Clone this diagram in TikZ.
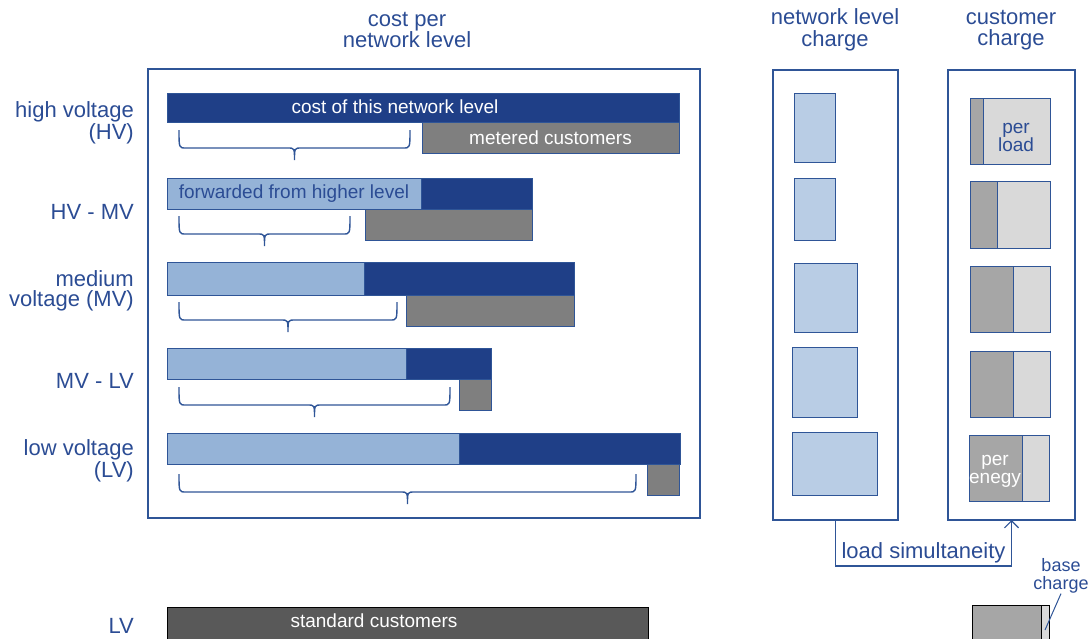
\documentclass[tikz,border=0pt]{standalone}
\usepackage{fontspec}
\setmainfont{Liberation Sans}
\usetikzlibrary{arrows.meta}
\definecolor{nblue}{HTML}{1F3F87}
\definecolor{lblue}{HTML}{95B3D7}
\definecolor{pblue}{HTML}{B9CDE5}
\definecolor{tblue}{HTML}{2B4C94}
\definecolor{lineblue}{HTML}{2F5597}
\definecolor{mgray}{HTML}{7F7F7F}
\definecolor{dgray}{HTML}{A6A6A6}
\definecolor{lgray}{HTML}{D9D9D9}
\definecolor{sgray}{HTML}{595959}
\tikzset{
    bar/.style={draw=lineblue,line width=1pt,anchor=north west,inner sep=0pt,outer sep=0pt},
    own/.style={bar,fill=nblue},
    fwd/.style={bar,fill=lblue,text=tblue,font=\fontsize{19}{19}\selectfont},
    met/.style={bar,fill=mgray,text=white,font=\fontsize{19}{19}\selectfont},
    chg/.style={bar,fill=pblue},
    pload/.style={bar,fill=lgray},
    penergy/.style={bar,fill=dgray},
    frame/.style={draw=lineblue,line width=1.2pt,anchor=north west,inner sep=0pt,outer sep=0pt},
    lbl/.style={text=tblue,align=right,anchor=east,inner sep=0pt,font=\fontsize{22}{20.5}\selectfont},
    ttl/.style={text=tblue,align=center,inner sep=0pt,font=\fontsize{22}{21.5}\selectfont},
    bartext/.style={text=white,inner sep=0pt,font=\fontsize{19}{19}\selectfont},
    boxtext/.style={align=center,inner sep=0pt,font=\fontsize{19}{18}\selectfont},
    brk/.style={draw=lineblue,line width=1.4pt},
    conn/.style={draw=lineblue,line width=1.2pt,-{Straight Barb[length=7pt,width=14pt]}},
}
\begin{document}
\begin{tikzpicture}[x=1pt,y=-1pt]
\useasboundingbox (0,0) rectangle (1088,638);
\node[ttl] (costttl) at (407,30) {cost per\\network level};
\node[ttl] (ncttl)   at (835,30) {network level\\charge};
\node[ttl] (ccttl)   at (1011,30) {customer\\charge};

\node[frame,minimum width=552,minimum height=449] (costbox) at (148,69) {};
\node[frame,minimum width=125,minimum height=450] (ncbox) at (773,70) {};
\node[frame,minimum width=127,minimum height=450] (ccbox) at (948,70) {};

\node[lbl] (hvlbl)   at (134,123) {high voltage\\(HV)};
\node[lbl] (hvmvlbl) at (134,212) {HV - MV};
\node[lbl] (mvlbl)   at (134,291) {medium\\voltage (MV)};
\node[lbl] (mvlvlbl) at (134,381) {MV - LV};
\node[lbl] (lvlbl)   at (134,461) {low voltage\\(LV)};
\node[lbl] (stdlbl)  at (134,626) {LV};

\node[own,minimum width=512,minimum height=29] (hvown) at (167,93) {};
\node[bartext] (hvowntext) at (395,107) {cost of this network level};
\node[met,minimum width=257,minimum height=31] (hvmet) at (422,122) {metered customers};

\node[own,minimum width=365,minimum height=31] (hvmvown) at (167,178) {};
\node[fwd,minimum width=254,minimum height=31] (hvmvfwd) at (167,178) {forwarded from higher level};
\node[met,minimum width=167,minimum height=31] (hvmvmet) at (365,209) {};

\node[own,minimum width=407,minimum height=33] (mvown) at (167,262) {};
\node[fwd,minimum width=197,minimum height=33] (mvfwd) at (167,262) {};
\node[met,minimum width=168,minimum height=31] (mvmet) at (406,295) {};

\node[own,minimum width=324,minimum height=31] (mvlvown) at (167,348) {};
\node[fwd,minimum width=239,minimum height=31] (mvlvfwd) at (167,348) {};
\node[met,minimum width=32,minimum height=31] (mvlvmet) at (459,379) {};

\node[own,minimum width=513,minimum height=31] (lvown) at (167,433) {};
\node[fwd,minimum width=292,minimum height=31] (lvfwd) at (167,433) {};
\node[met,minimum width=32,minimum height=31] (lvmet) at (647,464) {};

\foreach \xa/\xb/\yy in {179/410/130, 179/350/216, 179/397/302, 179/450/387, 179/636/474}
    \draw[brk] (\xa,\yy) .. controls (\xa,\yy+18) .. (\xa+7,\yy+18)
        -- ({(\xa+\xb)/2-7},\yy+18) .. controls ({(\xa+\xb)/2},\yy+18) .. ({(\xa+\xb)/2},\yy+30)
        .. controls ({(\xa+\xb)/2},\yy+18) .. ({(\xa+\xb)/2+7},\yy+18)
        -- (\xb-7,\yy+18) .. controls (\xb,\yy+18) .. (\xb,\yy);

\node[chg,minimum width=41,minimum height=69] (nc1) at (794,93) {};
\node[chg,minimum width=41,minimum height=62] (nc2) at (794,178) {};
\node[chg,minimum width=63,minimum height=69] (nc3) at (794,263) {};
\node[chg,minimum width=65,minimum height=70] (nc4) at (792,347) {};
\node[chg,minimum width=85,minimum height=63] (nc5) at (792,432) {};

\node[pload,minimum width=67,minimum height=66] (cc1l) at (983,98) {};
\node[penergy,minimum width=13,minimum height=66] (cc1e) at (970,98) {};
\node[boxtext,text=tblue] (perload) at (1016,137) {per\\load};
\node[pload,minimum width=53,minimum height=67] (cc2l) at (997,181) {};
\node[penergy,minimum width=27,minimum height=67] (cc2e) at (970,181) {};
\node[pload,minimum width=37,minimum height=66] (cc3l) at (1013,266) {};
\node[penergy,minimum width=43,minimum height=66] (cc3e) at (970,266) {};
\node[pload,minimum width=37,minimum height=66] (cc4l) at (1013,351) {};
\node[penergy,minimum width=43,minimum height=66] (cc4e) at (970,351) {};
\node[pload,minimum width=27,minimum height=66] (cc5l) at (1022,435) {};
\node[penergy,minimum width=53,minimum height=66] (cc5e) at (969,435) {};
\node[boxtext,text=white] (perenergy) at (995,471) {per\\enegy};

\draw[conn] (ncbox.south) -- ++(0,46) -| node[pos=0.25,above,text=tblue,inner sep=2pt,
    font=\fontsize{22}{22}\selectfont] (simlbl) {load simultaneity} (ccbox.south);

\node[bar,draw=black,fill=sgray,minimum width=481,minimum height=50] (stdbar) at (167,607) {};
\node[bartext] (stdtext) at (374,621) {standard customers};
\node[bar,draw=black,fill=lgray,minimum width=8,minimum height=50] (basel) at (1041,605) {};
\node[bar,draw=black,fill=dgray,minimum width=69,minimum height=50] (basee) at (972,605) {};
\node[ttl,font=\fontsize{18}{18}\selectfont] (baselbl) at (1061,576) {base\\charge};
\draw[draw=lineblue,line width=1pt] (baselbl.south) -- (basel.center);
\end{tikzpicture}
\end{document}
